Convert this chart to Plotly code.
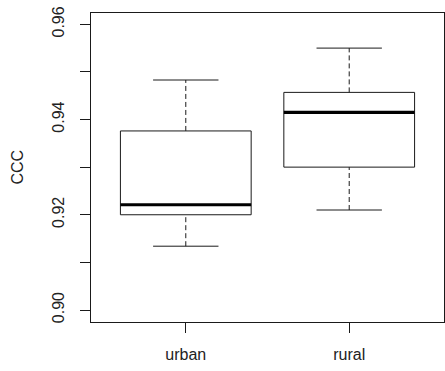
import plotly.graph_objects as go

categories = ["urban", "rural"]
whisker_low = [0.9134, 0.9210]
q1 = [0.9200, 0.9300]
median = [0.9221, 0.9415]
q3 = [0.9376, 0.9457]
whisker_high = [0.9483, 0.9550]

y_ticks = [0.90, 0.91, 0.92, 0.93, 0.94, 0.95, 0.96]
y_ticktext = ["0.90", "", "0.92", "", "0.94", "", "0.96"]

INK = "#1a1a1a"
BOX_HALF = 0.4
CAP_HALF = 0.2

fig = go.Figure()
for i, cat in enumerate(categories):
    p = i + 1
    # box
    fig.add_trace(go.Scatter(
        x=[p - BOX_HALF, p + BOX_HALF, p + BOX_HALF, p - BOX_HALF, p - BOX_HALF],
        y=[q1[i], q1[i], q3[i], q3[i], q1[i]],
        mode="lines", fill="toself", fillcolor="white",
        line=dict(color=INK, width=1), showlegend=False, hoverinfo="skip"))
    # whiskers (dashed)
    fig.add_trace(go.Scatter(
        x=[p, p, None, p, p],
        y=[whisker_low[i], q1[i], None, q3[i], whisker_high[i]],
        mode="lines", line=dict(color=INK, width=1, dash="5px,3px"),
        showlegend=False, hoverinfo="skip"))
    # caps
    fig.add_trace(go.Scatter(
        x=[p - CAP_HALF, p + CAP_HALF, None, p - CAP_HALF, p + CAP_HALF],
        y=[whisker_low[i], whisker_low[i], None, whisker_high[i], whisker_high[i]],
        mode="lines", line=dict(color=INK, width=1),
        showlegend=False, hoverinfo="skip"))
    # median
    fig.add_trace(go.Scatter(
        x=[p - BOX_HALF, p + BOX_HALF],
        y=[median[i], median[i]],
        mode="lines", line=dict(color="black", width=3.2),
        showlegend=False, hoverinfo="skip"))

font = dict(family="Liberation Sans, Arial, sans-serif", size=16, color="#222")

fig.update_layout(
    width=445, height=371,
    margin=dict(l=91, r=1, t=13, b=49, autoexpand=False),
    paper_bgcolor="white", plot_bgcolor="white",
    font=font,
    xaxis=dict(
        range=[0.42, 2.58], tickvals=[1, 2], ticktext=categories,
        showgrid=False, zeroline=False, automargin=False,
        showline=True, mirror=True, linecolor=INK, linewidth=1,
        ticks="outside", ticklen=10, tickcolor=INK, tickwidth=1,
        ticklabelstandoff=8, tickfont=font,
    ),
    yaxis=dict(
        range=[0.89748, 0.96237], tickvals=y_ticks, ticktext=y_ticktext,
        showgrid=False, zeroline=False, automargin=False,
        showline=True, mirror=True, linecolor=INK, linewidth=1,
        ticks="outside", ticklen=10, tickcolor=INK, tickwidth=1,
        tickangle=-90, ticklabelstandoff=10, tickfont=font,
    ),
    annotations=[dict(
        text="CCC", xref="paper", yref="paper",
        x=-(91 - 17) / 353, y=0.5, xanchor="center", yanchor="middle",
        textangle=-90, showarrow=False, font=font)],
)

fig.write_html("out.html", config={"displayModeBar": False},
               post_script="document.body.style.margin='0px';")
